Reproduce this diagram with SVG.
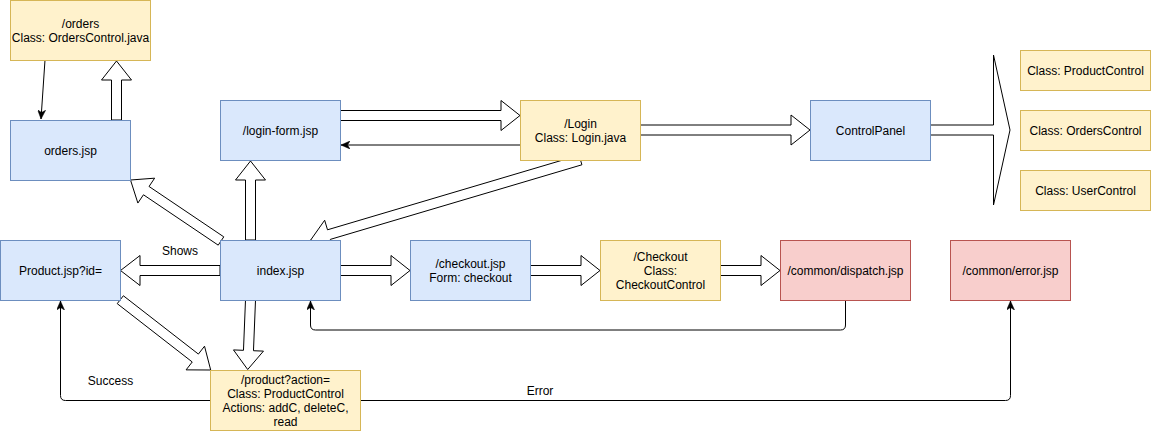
<svg xmlns="http://www.w3.org/2000/svg" width="1151" height="431" viewBox="0 0 1151 431">
<style>
.blue{fill:#dae8fc;stroke:#6c8ebf;stroke-width:1}
.yellow{fill:#fff2cc;stroke:#d6b656;stroke-width:1}
.red{fill:#f8cecc;stroke:#b85450;stroke-width:1}
text{font-family:"Liberation Sans",Arial,sans-serif;font-size:12px;fill:#000;text-anchor:middle}
.flex{fill:#fff;stroke:#000;stroke-width:1;stroke-linejoin:miter}
.thin{fill:none;stroke:#000;stroke-width:1}
</style>
<defs>
<marker id="arr" markerWidth="10" markerHeight="8" refX="9" refY="4" orient="auto" markerUnits="userSpaceOnUse">
<path d="M0,0 L9,4 L0,8 L2.5,4 Z" fill="#000" stroke="#000" stroke-width="0.5"/>
</marker>
</defs>
<g id="connectors">
<polygon class="flex" points="111.5,120 111.5,80 101.5,80 116.5,61 131.5,80 121.5,80 121.5,120"/>
<line class="thin" x1="45" y1="60" x2="41" y2="119" marker-end="url(#arr)"/>
<polygon class="flex" points="223.79,236.85 149.04,186.47 154.63,178.18 130.5,180 137.87,203.06 143.46,194.77 218.21,245.15"/>
<polygon class="flex" points="245.5,240 245.5,180 235.5,180 250.5,161 265.5,180 255.5,180 255.5,240"/>
<polygon class="flex" points="340,110.5 501,110.5 501,100.5 520,115.5 501,130.5 501,120.5 340,120.5"/>
<line class="thin" x1="520" y1="145" x2="341" y2="145" marker-end="url(#arr)"/>
<polygon class="flex" points="579.08,155.21 327.50,229.81 324.66,220.22 310.7,240 333.18,248.98 330.34,239.39 581.92,164.79"/>
<polygon class="flex" points="640,125 791,125 791,115 810,130 791,145 791,135 640,135"/>
<polygon class="flex" points="930,125 993.5,125 993.5,55 1010,130 993.5,205 993.5,135 930,135"/>
<polygon class="flex" points="220,265.5 140,265.5 140,255.5 120.5,270.5 140,285.5 140,275.5 220,275.5"/>
<polygon class="flex" points="340,265.5 391,265.5 391,255.5 410,270.5 391,285.5 391,275.5 340,275.5"/>
<polygon class="flex" points="530,265.5 581,265.5 581,255.5 600,270.5 581,285.5 581,275.5 530,275.5"/>
<polygon class="flex" points="720,265.5 761,265.5 761,255.5 780,270.5 761,285.5 761,275.5 720,275.5"/>
<polygon class="flex" points="245.5,299.8 243.47,350.32 233.48,349.92 247.7,369.5 263.46,351.12 253.47,350.72 255.5,300.2"/>
<polygon class="flex" points="117.23,303.65 192.24,361.98 186.10,369.87 210.7,370 204.52,346.19 198.38,354.08 123.37,295.75"/>
<path class="thin" d="M845.5,300 V325 Q845.5,330 840.5,330 H315.5 Q310.5,330 310.5,325 V301" marker-end="url(#arr)"/>
<path class="thin" d="M210,400.5 H65.5 Q60.5,400.5 60.5,395.5 V301" marker-end="url(#arr)"/>
<path class="thin" d="M360,400.5 H1005.5 Q1010.5,400.5 1010.5,395.5 V301" marker-end="url(#arr)"/>
<text x="180" y="255">Shows</text>
<text x="110.5" y="385">Success</text>
<text x="540" y="395">Error</text>
</g>
<g id="orders-ctrl"><rect class="yellow" x="10.5" y="0.5" width="140" height="60"/><text x="80.5" y="27.5">/orders</text><text x="80.5" y="42">Class: OrdersControl.java</text></g>
<g id="orders-jsp"><rect class="blue" x="10.5" y="120.5" width="120" height="60"/><text x="70.5" y="154.5">orders.jsp</text></g>
<g id="login-form"><rect class="blue" x="220.5" y="100.5" width="120" height="60"/><text x="280.5" y="134.5">/login-form.jsp</text></g>
<g id="login"><rect class="yellow" x="520.5" y="100.5" width="120" height="60"/><text x="580.5" y="127.5">/Login</text><text x="580.5" y="142">Class: Login.java</text></g>
<g id="controlpanel"><rect class="blue" x="810.5" y="100.5" width="120" height="60"/><text x="870.5" y="134.5">ControlPanel</text></g>
<g id="productcontrol"><rect class="yellow" x="1020.5" y="50.5" width="130" height="40"/><text x="1085.5" y="74.5">Class: ProductControl</text></g>
<g id="orderscontrol"><rect class="yellow" x="1020.5" y="110.5" width="130" height="40"/><text x="1085.5" y="134.5">Class: OrdersControl</text></g>
<g id="usercontrol"><rect class="yellow" x="1020.5" y="170.5" width="130" height="40"/><text x="1085.5" y="194.5">Class: UserControl</text></g>
<g id="product-jsp"><rect class="blue" x="0.5" y="240.5" width="120" height="60"/><text x="60.5" y="274.5">Product.jsp?id=</text></g>
<g id="index"><rect class="blue" x="220.5" y="240.5" width="120" height="60"/><text x="280.5" y="274.5">index.jsp</text></g>
<g id="checkout-jsp"><rect class="blue" x="410.5" y="240.5" width="120" height="60"/><text x="470.5" y="267.5">/checkout.jsp</text><text x="470.5" y="282">Form: checkout</text></g>
<g id="checkout"><rect class="yellow" x="600.5" y="240.5" width="120" height="60"/><text x="660.5" y="260.5">/Checkout</text><text x="660.5" y="275">Class:</text><text x="660.5" y="289">CheckoutControl</text></g>
<g id="dispatch"><rect class="red" x="780.5" y="240.5" width="130" height="60"/><text x="845.5" y="274.5">/common/dispatch.jsp</text></g>
<g id="error"><rect class="red" x="950.5" y="240.5" width="120" height="60"/><text x="1010.5" y="274.5">/common/error.jsp</text></g>
<g id="product-action"><rect class="yellow" x="210.5" y="370.5" width="150" height="60"/><text x="285.5" y="384">/product?action=</text><text x="285.5" y="398">Class: ProductControl</text><text x="285.5" y="412">Actions: addC, deleteC,</text><text x="285.5" y="426">read</text></g>
</svg>
